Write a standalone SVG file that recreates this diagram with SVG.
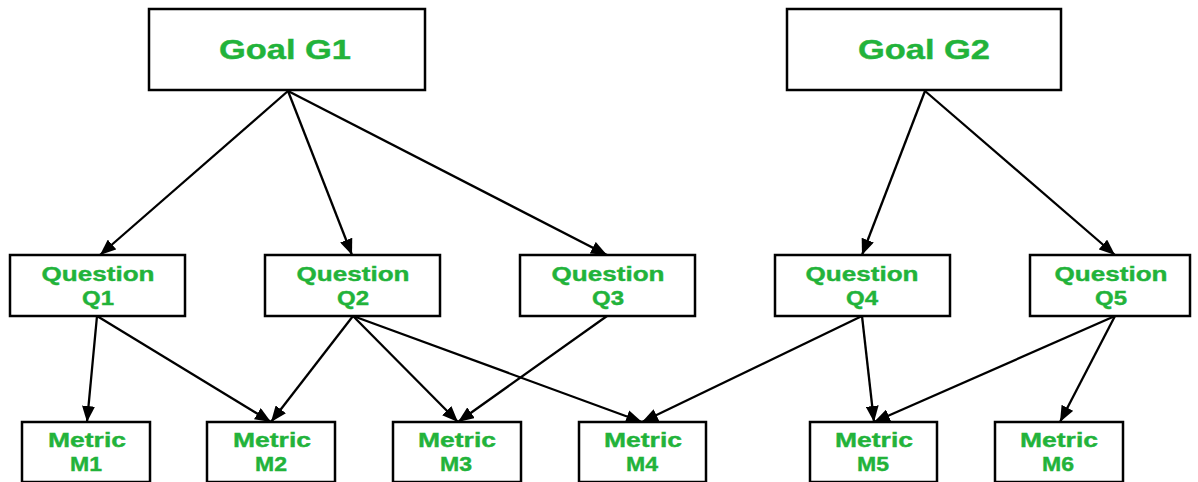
<svg xmlns="http://www.w3.org/2000/svg" width="1198" height="482" viewBox="0 0 1198 482">
<defs>
<style>
.box{fill:#fff;stroke:#000;stroke-width:2.5}
.t{font-family:"Liberation Sans",Arial,sans-serif;font-weight:bold;fill:#22b33a;text-anchor:middle;stroke:#22b33a;stroke-width:0.4}
.g{font-size:27px}
.s{font-size:21px}
.c line{stroke:#000;stroke-width:2.3;marker-end:url(#ah)}
</style>
<marker id="ah" markerUnits="userSpaceOnUse" markerWidth="17" markerHeight="13" refX="16" refY="6.5" orient="auto">
<path d="M0,0 L16,6.5 L0,13 z" fill="#000"/>
</marker>
</defs>
<rect width="1198" height="482" fill="#fff"/>
<g class="c" id="connectors">
<line x1="288" y1="91" x2="100" y2="255"/>
<line x1="288" y1="91" x2="352" y2="255"/>
<line x1="288" y1="91" x2="607" y2="255"/>
<line x1="925" y1="91" x2="862" y2="255"/>
<line x1="925" y1="91" x2="1115" y2="255"/>
<line x1="97" y1="316" x2="87" y2="422"/>
<line x1="97" y1="316" x2="271" y2="422"/>
<line x1="353" y1="316" x2="271" y2="422"/>
<line x1="353" y1="316" x2="458" y2="422"/>
<line x1="353" y1="316" x2="642" y2="422"/>
<line x1="607" y1="316" x2="458" y2="422"/>
<line x1="862" y1="316" x2="642" y2="422"/>
<line x1="862" y1="316" x2="874" y2="422"/>
<line x1="1115" y1="316" x2="874" y2="422"/>
<line x1="1115" y1="316" x2="1060" y2="422"/>
</g>
<g id="G1"><rect class="box" x="149" y="9" width="276" height="81"/><text class="t g" x="285" y="59" textLength="132" lengthAdjust="spacingAndGlyphs">Goal G1</text></g>
<g id="G2"><rect class="box" x="787" y="9" width="274" height="81"/><text class="t g" x="924" y="59" textLength="132" lengthAdjust="spacingAndGlyphs">Goal G2</text></g>
<g id="Q1"><rect class="box" x="10" y="255" width="175" height="61"/><text class="t s" x="98" y="281" textLength="113" lengthAdjust="spacingAndGlyphs">Question</text><text class="t s" x="98" y="305" textLength="32" lengthAdjust="spacingAndGlyphs">Q1</text></g>
<g id="Q2"><rect class="box" x="265" y="255" width="175" height="61"/><text class="t s" x="353" y="281" textLength="113" lengthAdjust="spacingAndGlyphs">Question</text><text class="t s" x="353" y="305" textLength="32" lengthAdjust="spacingAndGlyphs">Q2</text></g>
<g id="Q3"><rect class="box" x="520" y="255" width="175" height="61"/><text class="t s" x="608" y="281" textLength="113" lengthAdjust="spacingAndGlyphs">Question</text><text class="t s" x="608" y="305" textLength="32" lengthAdjust="spacingAndGlyphs">Q3</text></g>
<g id="Q4"><rect class="box" x="775" y="255" width="175" height="61"/><text class="t s" x="862" y="281" textLength="113" lengthAdjust="spacingAndGlyphs">Question</text><text class="t s" x="862" y="305" textLength="32" lengthAdjust="spacingAndGlyphs">Q4</text></g>
<g id="Q5"><rect class="box" x="1030" y="255" width="160" height="61"/><text class="t s" x="1111" y="281" textLength="113" lengthAdjust="spacingAndGlyphs">Question</text><text class="t s" x="1111" y="305" textLength="32" lengthAdjust="spacingAndGlyphs">Q5</text></g>
<g id="M1"><rect class="box" x="22" y="422" width="128" height="60"/><text class="t s" x="87" y="447" textLength="78" lengthAdjust="spacingAndGlyphs">Metric</text><text class="t s" x="86" y="471" textLength="32" lengthAdjust="spacingAndGlyphs">M1</text></g>
<g id="M2"><rect class="box" x="207" y="422" width="128" height="60"/><text class="t s" x="272" y="447" textLength="78" lengthAdjust="spacingAndGlyphs">Metric</text><text class="t s" x="271" y="471" textLength="32" lengthAdjust="spacingAndGlyphs">M2</text></g>
<g id="M3"><rect class="box" x="393" y="422" width="128" height="60"/><text class="t s" x="457" y="447" textLength="78" lengthAdjust="spacingAndGlyphs">Metric</text><text class="t s" x="456" y="471" textLength="32" lengthAdjust="spacingAndGlyphs">M3</text></g>
<g id="M4"><rect class="box" x="579" y="422" width="127" height="60"/><text class="t s" x="643" y="447" textLength="78" lengthAdjust="spacingAndGlyphs">Metric</text><text class="t s" x="642" y="471" textLength="32" lengthAdjust="spacingAndGlyphs">M4</text></g>
<g id="M5"><rect class="box" x="810" y="422" width="127" height="60"/><text class="t s" x="874" y="447" textLength="78" lengthAdjust="spacingAndGlyphs">Metric</text><text class="t s" x="873" y="471" textLength="32" lengthAdjust="spacingAndGlyphs">M5</text></g>
<g id="M6"><rect class="box" x="995" y="422" width="128" height="60"/><text class="t s" x="1059" y="447" textLength="78" lengthAdjust="spacingAndGlyphs">Metric</text><text class="t s" x="1058" y="471" textLength="32" lengthAdjust="spacingAndGlyphs">M6</text></g>
</svg>
